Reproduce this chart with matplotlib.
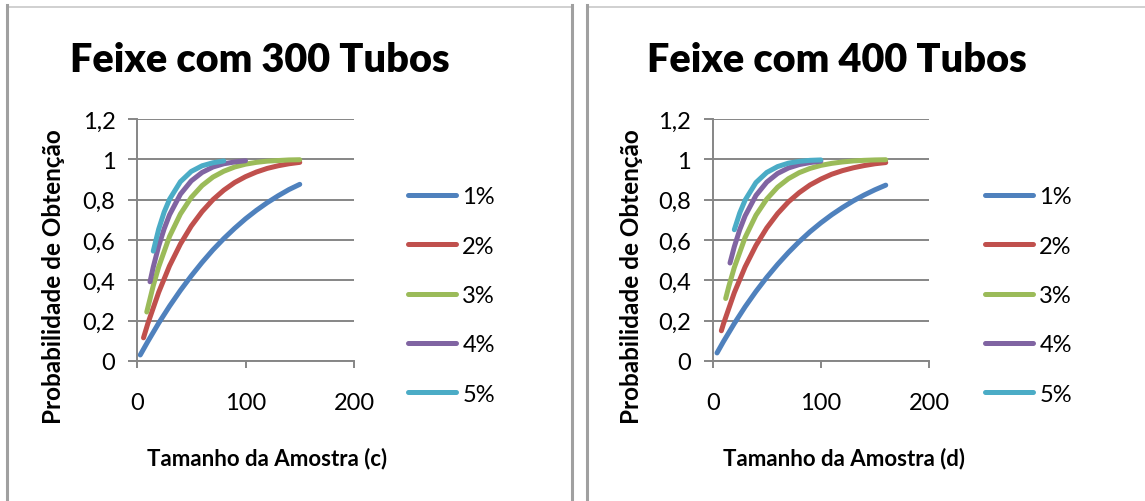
import matplotlib
matplotlib.use("Agg")
import matplotlib.pyplot as plt
from matplotlib.lines import Line2D

plt.rcParams['font.family'] = ['Lato', 'DejaVu Sans']

labels = ['1%', '2%', '3%', '4%', '5%']
colors = ['#4F81BD', '#C0504D', '#9BBB59', '#8064A2', '#4BACC6']

# feixe com 300 tubos
n300_1 = [3, 10, 20, 30, 40, 50, 60, 70, 80, 90, 100, 110, 120, 130, 140, 150]
p300_1 = [0.030, 0.097, 0.188, 0.272, 0.350, 0.422, 0.489, 0.551, 0.607, 0.658,
          0.705, 0.747, 0.785, 0.819, 0.850, 0.876]
n300_2 = [6, 10, 20, 30, 40, 50, 60, 70, 80, 90, 100, 110, 120, 130, 140, 150]
p300_2 = [0.115, 0.186, 0.341, 0.472, 0.580, 0.669, 0.741, 0.800, 0.847, 0.885,
          0.914, 0.937, 0.955, 0.968, 0.978, 0.985]
n300_3 = [9, 15, 20, 30, 40, 50, 60, 70, 80, 90, 100, 110, 120, 130, 140, 150]
p300_3 = [0.243, 0.374, 0.467, 0.618, 0.729, 0.811, 0.870, 0.912, 0.941, 0.962,
          0.976, 0.985, 0.991, 0.994, 0.997, 0.998]
n300_4 = [12, 15, 20, 25, 30, 40, 50, 60, 70, 80, 90, 100]
p300_4 = [0.393, 0.466, 0.570, 0.655, 0.725, 0.827, 0.893, 0.935, 0.962, 0.978,
          0.987, 0.993]
n300_5 = [15, 20, 25, 30, 40, 50, 60, 70, 80]
p300_5 = [0.545, 0.654, 0.738, 0.802, 0.889, 0.940, 0.968, 0.983, 0.992]

# feixe com 400 tubos
n400_1 = [4, 10, 20, 30, 40, 50, 60, 70, 80, 90, 100, 110, 120, 130, 140, 150, 160]
p400_1 = [0.040, 0.097, 0.186, 0.269, 0.345, 0.415, 0.479, 0.538, 0.592, 0.641,
          0.685, 0.725, 0.761, 0.794, 0.823, 0.849, 0.872]
n400_2 = [8, 10, 20, 30, 40, 50, 60, 70, 80, 90, 100, 110, 120, 130, 140, 150, 160]
p400_2 = [0.150, 0.185, 0.339, 0.467, 0.573, 0.660, 0.731, 0.789, 0.835, 0.873,
          0.902, 0.926, 0.944, 0.958, 0.969, 0.978, 0.984]
n400_3 = [12, 15, 20, 30, 40, 50, 60, 70, 80, 90, 100, 110, 120, 130, 140, 150, 160]
p400_3 = [0.310, 0.372, 0.464, 0.613, 0.723, 0.803, 0.862, 0.904, 0.934, 0.955,
          0.970, 0.980, 0.987, 0.992, 0.995, 0.997, 0.998]
n400_4 = [16, 20, 25, 30, 40, 50, 60, 70, 80, 90, 100]
p400_4 = [0.486, 0.567, 0.651, 0.720, 0.821, 0.887, 0.930, 0.957, 0.974, 0.984, 0.991]
n400_5 = [20, 25, 30, 40, 50, 60, 70, 80, 90, 100]
p400_5 = [0.651, 0.734, 0.798, 0.885, 0.935, 0.964, 0.981, 0.990, 0.995, 0.997]

W, H = 1145, 502
fig = plt.figure(figsize=(W / 100, H / 100), dpi=100)
grey = '#868686'


def px(x, y):
    return x / W, 1 - y / H


def panel(x0, x1, series, title, title_x, xlabel, xlabel_x, ylabel_x, leg_x):
    l, b = px(x0, 362)
    r, t = px(x1, 120)
    ax = fig.add_axes([l, b, r - l, t - b])
    for (xs, ys), lab, c in zip(series, labels, colors):
        ax.plot(xs, ys, color=c, lw=3.6, label=lab, solid_capstyle='round')
    ax.set_xlim(0, 200)
    ax.set_ylim(0, 1.2)
    ax.set_xticks([0, 100, 200])
    ax.set_yticks([0, 0.2, 0.4, 0.6, 0.8, 1.0, 1.2])
    ax.set_yticklabels(['0', '0,2', '0,4', '0,6', '0,8', '1', '1,2'])
    ax.grid(axis='y', color=grey, lw=1.4)
    ax.set_axisbelow(True)
    for s in ['top', 'right']:
        ax.spines[s].set_visible(False)
    for s in ['left', 'bottom']:
        ax.spines[s].set_color(grey)
        ax.spines[s].set_linewidth(1.4)
    ax.tick_params(axis='y', length=6.5, width=1.4, color=grey, pad=9, labelsize=17)
    ax.tick_params(axis='x', length=5, width=1.4, color=grey, pad=17, labelsize=17)
    ax.patch.set_alpha(0)

    tx, ty = px(title_x, 72)
    fig.text(tx, ty, title, ha='center', va='baseline', fontsize=28.5, fontweight='heavy')
    lx, ly = px(xlabel_x, 465)
    fig.text(lx, ly, xlabel, ha='center', va='baseline', fontsize=16, fontweight='bold')
    yx, yy = px(ylabel_x, 276.5)
    fig.text(yx, yy, 'Probabilidade de Obtenção', ha='center', va='center',
             rotation=90, fontsize=17.5, fontweight='bold')

    gx, gy = px(leg_x, 296.5)
    ax.legend(loc='center left', bbox_to_anchor=(gx, gy), bbox_transform=fig.transFigure,
              frameon=False, fontsize=17, handlelength=2.05, handletextpad=0.25,
              labelspacing=1.2, borderpad=0, borderaxespad=0)
    return ax


panel(137, 354,
      [(n300_1, p300_1), (n300_2, p300_2), (n300_3, p300_3), (n300_4, p300_4), (n300_5, p300_5)],
      'Feixe com 300 Tubos', 260, 'Tamanho da Amostra (c)', 267, 53.5, 408)
panel(712.7, 929,
      [(n400_1, p400_1), (n400_2, p400_2), (n400_3, p400_3), (n400_4, p400_4), (n400_5, p400_5)],
      'Feixe com 400 Tubos', 836.5, 'Tamanho da Amostra (d)', 844, 631.5, 985)

# moldura das caixas
for xa, xb in [(7, 571), (587, 1145)]:
    a, ya = px(xa, 7.5)
    bb, _ = px(xb, 7.5)
    fig.add_artist(Line2D([a, bb], [ya, ya], color='#c8c8c8', lw=1.2))
for xv in [6.5, 571.5, 586.5]:
    vx, vt = px(xv, 6)
    _, vb = px(xv, 502)
    fig.add_artist(Line2D([vx, vx], [vt, vb], color='#a0a0a0', lw=2.2))

fig.savefig('out.png', dpi=100)
